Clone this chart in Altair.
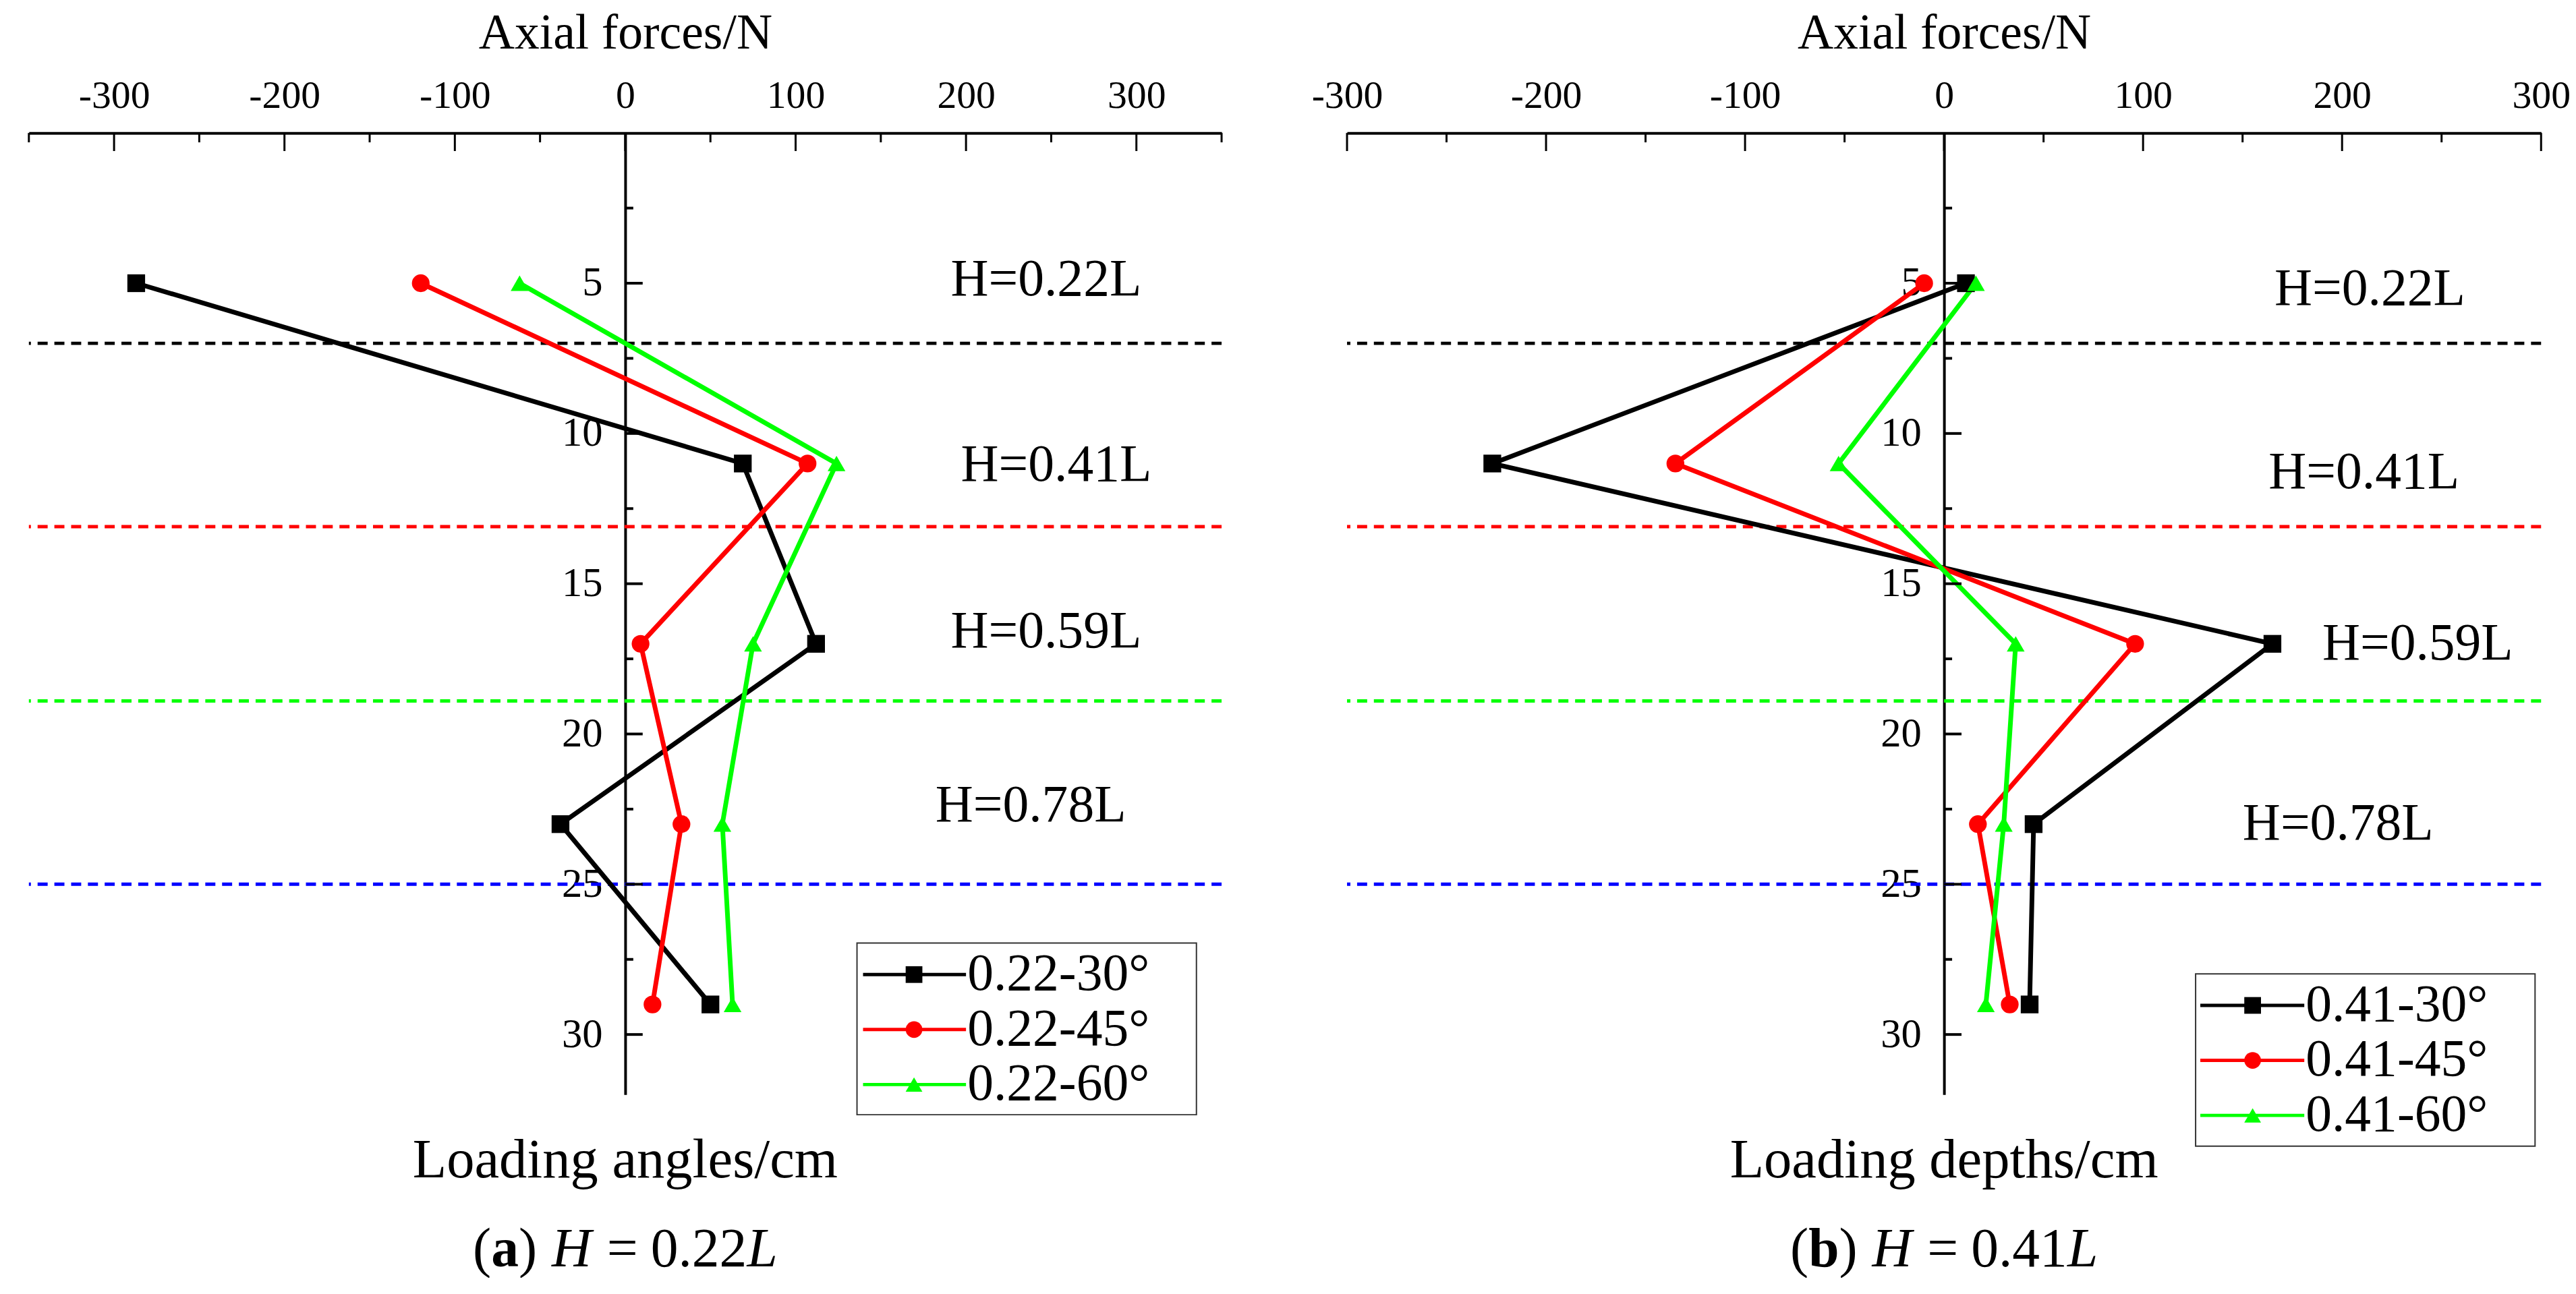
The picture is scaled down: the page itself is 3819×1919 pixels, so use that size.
import altair as alt
import pandas as pd

SERIF = "Liberation Serif, Times New Roman, serif"

# ---------------- data ----------------
depths = [5, 11, 17, 23, 29]

series_a = ["0.22-30°", "0.22-45°", "0.22-60°"]
forces_a_30 = [-287, 69, 112, -38, 50]
forces_a_45 = [-120, 107, 9, 33, 16]
forces_a_60 = [-62, 124, 75, 57, 63]

series_b = ["0.41-30°", "0.41-45°", "0.41-60°"]
forces_b_30 = [11, -227, 165, 45, 43]
forces_b_45 = [-10, -135, 96, 17, 33]
forces_b_60 = [16, -53, 36, 30, 21]

boundary_depths = [7, 13.1, 18.9, 25]
boundary_colors = ["#000000", "#ff0000", "#00ff00", "#0000ff"]
boundary_labels = ["H=0.22L", "H=0.41L", "H=0.59L", "H=0.78L"]
label_x_a = [247, 253, 247, 238]
label_y_a = [4.9, 11.06, 16.6, 22.4]
label_x_b = [214, 211, 238, 198]
label_y_b = [5.2, 11.3, 17.0, 23.0]

series_colors = ["#000000", "#ff0000", "#00ff00"]
series_shapes = ["square", "circle", "triangle-up"]

x_ticks = [-300, -200, -100, 0, 100, 200, 300]
x_minor_a = [-350, -250, -150, -50, 50, 150, 250, 350]
x_minor_b = [-250, -150, -50, 50, 150, 250]
y_ticks = [5, 10, 15, 20, 25, 30]
y_minor = [2.5, 7.5, 12.5, 17.5, 22.5, 27.5]

PLOT_H = 1434
TICK_FS = 58
HYPHEN_LABEL = "(datum.value < 0 ? '-' : '') + abs(datum.value)"


def panel(series, forces_list, xdom, width, xminor, lab_x, lab_y,
          legend_box, legend_rows, legend_line, legend_marker, legend_text_x,
          bottom_title, letter, value_text):
    zero_px = (0 - xdom[0]) / (xdom[1] - xdom[0]) * width
    rows = []
    for s, f in zip(series, forces_list):
        for d, v in zip(depths, f):
            rows.append({"series": s, "force": v, "depth": d})
    df = pd.DataFrame(rows)

    xs = alt.Scale(domain=xdom, nice=False, zero=False)
    ys = alt.Scale(domain=[0, 32], reverse=True, nice=False, zero=False)
    color = alt.Color("series:N", scale=alt.Scale(domain=series, range=series_colors), legend=None)
    shape = alt.Shape("series:N", scale=alt.Scale(domain=series, range=series_shapes), legend=None)

    x_axis = alt.Axis(orient="top", values=x_ticks, title="Axial forces/N", ticks=False, tickSize=0,
                      grid=False, domainColor="black", domainWidth=4, labelFont=SERIF,
                      labelFontSize=TICK_FS, labelColor="black", labelPadding=38,
                      labelBaseline="alphabetic", labelFlush=False, labelOverlap=False,
                      labelExpr=HYPHEN_LABEL,
                      titleFont=SERIF, titleFontSize=74, titleFontWeight="normal",
                      titleColor="black", titleY=-126, titleBaseline="alphabetic")
    y_axis = alt.Axis(orient="left", offset=-zero_px, values=y_ticks, title=None, ticks=False,
                      tickSize=0, grid=False, domainColor="black", domainWidth=4,
                      labelFont=SERIF, labelFontSize=TICK_FS + 3, labelColor="black",
                      labelPadding=34, labelFlush=False, labelOverlap=False)

    def X(field):
        return alt.X(field, scale=xs, axis=x_axis)

    def Y(field):
        return alt.Y(field, scale=ys, axis=y_axis)

    base = alt.Chart(df)
    lines = base.mark_line(strokeWidth=7).encode(
        x=X("force:Q"), y=Y("depth:Q"), color=color, order="depth:Q")
    points = base.mark_point(filled=True, size=700, opacity=1).encode(
        x=X("force:Q"), y=Y("depth:Q"), color=color, shape=shape)

    bdf = pd.DataFrame({"depth": boundary_depths, "c": boundary_colors})
    bounds = alt.Chart(bdf).mark_rule(strokeDash=[15, 10], strokeWidth=5).encode(
        y=Y("depth:Q"), stroke=alt.Stroke("c:N", scale=None))

    ldf = pd.DataFrame({"force": lab_x, "depth": lab_y, "t": boundary_labels})
    labels = alt.Chart(ldf).mark_text(font=SERIF, fontSize=78, align="center",
                                      baseline="middle", color="black").encode(
        x=X("force:Q"), y=Y("depth:Q"), text="t:N")

    zero_x = alt.X(datum=0, scale=xs, axis=x_axis)
    zero_x2 = alt.X2(datum=0)
    zero_y = alt.Y(datum=0, scale=ys, axis=y_axis)
    zero_y2 = alt.Y2(datum=0)

    ymaj = alt.Chart(pd.DataFrame({"depth": y_ticks})).mark_rule(
        strokeWidth=4, color="black", x2Offset=26).encode(y=Y("depth:Q"), x=zero_x, x2=zero_x2)
    ymin = alt.Chart(pd.DataFrame({"depth": y_minor})).mark_rule(
        strokeWidth=4, color="black", x2Offset=12).encode(y=Y("depth:Q"), x=zero_x, x2=zero_x2)
    xmaj = alt.Chart(pd.DataFrame({"force": x_ticks})).mark_rule(
        strokeWidth=3, color="black", y2Offset=27).encode(x=X("force:Q"), y=zero_y, y2=zero_y2)
    xmin = alt.Chart(pd.DataFrame({"force": xminor})).mark_rule(
        strokeWidth=3, color="black", y2Offset=14).encode(x=X("force:Q"), y=zero_y, y2=zero_y2)

    # legend (drawn in pixel space of the panel)
    bx0, bx1, by0, by1 = legend_box
    box = alt.Chart(pd.DataFrame({"a": [0]})).mark_rect(
        fill="white", stroke="#333333", strokeWidth=2).encode(
        x=alt.value(bx0), x2=alt.value(bx1), y=alt.value(by0), y2=alt.value(by1))
    legdf = pd.DataFrame({"series": series, "py": legend_rows})
    leg_line = alt.Chart(legdf).mark_rule(strokeWidth=5).encode(
        x=alt.value(legend_line[0]), x2=alt.value(legend_line[1]),
        y=alt.Y("py:Q", scale=None), color=color)
    leg_pt = alt.Chart(legdf).mark_point(filled=True, size=620, opacity=1).encode(
        x=alt.value(legend_marker), y=alt.Y("py:Q", scale=None),
        color=color, shape=shape)
    leg_txt = alt.Chart(legdf).mark_text(font=SERIF, fontSize=78, align="left",
                                         baseline="middle", color="black", dx=2).encode(
        x=alt.value(legend_text_x), y=alt.Y("py:Q", scale=None), text="series:N")

    one = pd.DataFrame({"t": [bottom_title]})
    btitle = alt.Chart(one).mark_text(font=SERIF, fontSize=83, align="center",
                                      baseline="alphabetic", color="black").encode(
        x=zero_x, y=alt.value(1557), text="t:N")

    # caption pieces laid out from Times metrics
    fs = 82
    letter_w = 0.5 if letter == "a" else 0.556
    pieces = [
        ("(", "normal", "normal", 0.333, 0),
        (letter, "bold", "normal", letter_w, 0),
        (")", "normal", "normal", 0.333, 0),
        ("H", "normal", "italic", 0.722, 22),
        ("=", "normal", "normal", 0.564, 23),
        (value_text, "normal", "normal", 1.75, 19),
        ("L", "normal", "italic", 0.556, 0),
    ]
    total = sum(p[3] * fs + p[4] for p in pieces)
    pos = -total / 2
    cap_layers = []
    for txt, weight, style, w, gap in pieces:
        pos += gap
        cap_layers.append(
            alt.Chart(pd.DataFrame({"t": [txt]})).mark_text(
                font=SERIF, fontSize=fs, fontWeight=weight, fontStyle=style,
                align="left", baseline="alphabetic", color="black", dx=pos).encode(
                x=zero_x, y=alt.value(1690), text="t:N"))
        pos += w * fs

    layers = [bounds, lines, points, labels, ymaj, ymin, xmaj, xmin,
              box, leg_line, leg_pt, leg_txt, btitle] + cap_layers
    return alt.layer(*layers).properties(width=width, height=PLOT_H)


left = panel(series_a, [forces_a_30, forces_a_45, forces_a_60], [-350, 350], 1778, x_minor_a,
             label_x_a, label_y_a,
             (1234.5, 1740.5, 1208, 1464), [1255, 1337, 1419], (1243.5, 1397), 1319.5, 1397,
             "Loading angles/cm", "a", "0.22")
right = panel(series_b, [forces_b_30, forces_b_45, forces_b_60], [-300, 300], 1780, x_minor_b,
              label_x_b, label_y_b,
              (1265, 1771, 1254, 1511), [1301, 1383, 1465], (1272, 1427), 1350, 1427,
              "Loading depths/cm", "b", "0.41")

chart = (
    alt.hconcat(left, right, spacing=130)
    .properties(padding={"left": 32, "top": 0, "right": 0, "bottom": -4})
    .configure(background="white")
    .configure_view(stroke="transparent", strokeWidth=0)
)

chart.save("out.html", embed_options={"renderer": "svg", "actions": False})
